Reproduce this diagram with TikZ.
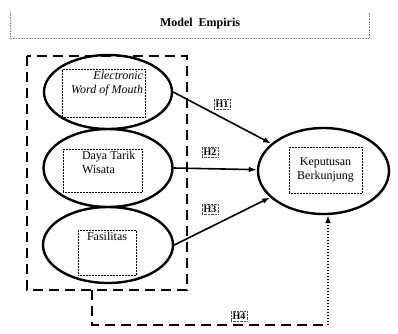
\documentclass[tikz,border=0pt]{standalone}
\usepackage{fontspec}
\setmainfont{Liberation Serif}
\usetikzlibrary{arrows.meta,shapes.geometric,positioning}

\begin{document}
\begin{tikzpicture}[x=1pt, y=-1pt, font=\fontsize{12}{14.5}\selectfont, >={Latex[length=2.8mm,width=2mm]},
    var/.style={ellipse, draw, line width=2.4pt, inner sep=0pt},
    tbox/.style={draw, densely dotted, line width=0.5pt, inner sep=2pt},
    hyp/.style={draw=black!70, densely dotted, line width=0.4pt, inner sep=1.5pt, font=\bfseries\fontsize{10}{11}\selectfont},
    link/.style={->, line width=1.6pt},
    grp/.style={line width=2.6pt, dash pattern=on 10pt off 6pt}]
  \useasboundingbox (0,0) rectangle (398,333);
    % title frame
  \draw[gray, densely dotted, line width=0.6pt] (10,12) -- (10,38) -- (369,38) -- (369,12);
  \node[font=\bfseries\fontsize{12}{14}\selectfont] (title) at (200,24) {Model\ \ Empiris};
    % variables
  \node[var, minimum width=128pt, minimum height=74pt] (ewom) at (108,92) {};
  \node[var, minimum width=129pt, minimum height=78pt] (daya) at (108,168) {};
  \node[var, minimum width=130pt, minimum height=76pt] (fas) at (108,245) {};
  \node[var, minimum width=131pt, minimum height=86pt] (kb) at (323.5,171) {};
  \node[tbox] (ewomtxt) at (103.5,93) {\parbox[c][44pt][t]{79pt}{\raggedleft\itshape Electronic\hspace*{5pt}\\Word of Mouth}};
  \node[tbox] (dayatxt) at (102.5,170.5) {\parbox[c][39pt][t]{75pt}{\raggedright\hspace*{17pt}Daya Tarik\\\hspace*{17pt}Wisata}};
  \node[tbox] (fastxt) at (107,252.5) {\parbox[c][41pt][t]{54pt}{\centering Fasilitas}};
  \node[tbox] (kbtxt) at (325.5,170) {\parbox[c][42pt][c]{69pt}{\centering Keputusan\\Berkunjung}};
    % dashed group
  \draw[grp] (27,56) rectangle (187,290);
  \coordinate (h4s) at (92,290);
  \coordinate (h4c) at (328,325);
    % hypotheses
  \draw[link] (ewom.east) -- (kb);
  \draw[link] (daya.east) -- (kb);
  \draw[link] (fas.east) -- (kb);
  \draw[grp] (h4s) |- (h4c);
  \draw[->, line width=1.8pt, dash pattern=on 1.5pt off 1.5pt] (h4c) -- (h4c |- kb.south);
  \node[hyp] (h1) at (222,104) {H1};
  \node[hyp] (h2) at (210,152) {H2};
  \node[hyp] (h3) at (210,209) {H3};
  \node[hyp] (h4) at (239,316) {H4};
\end{tikzpicture}
\end{document}
